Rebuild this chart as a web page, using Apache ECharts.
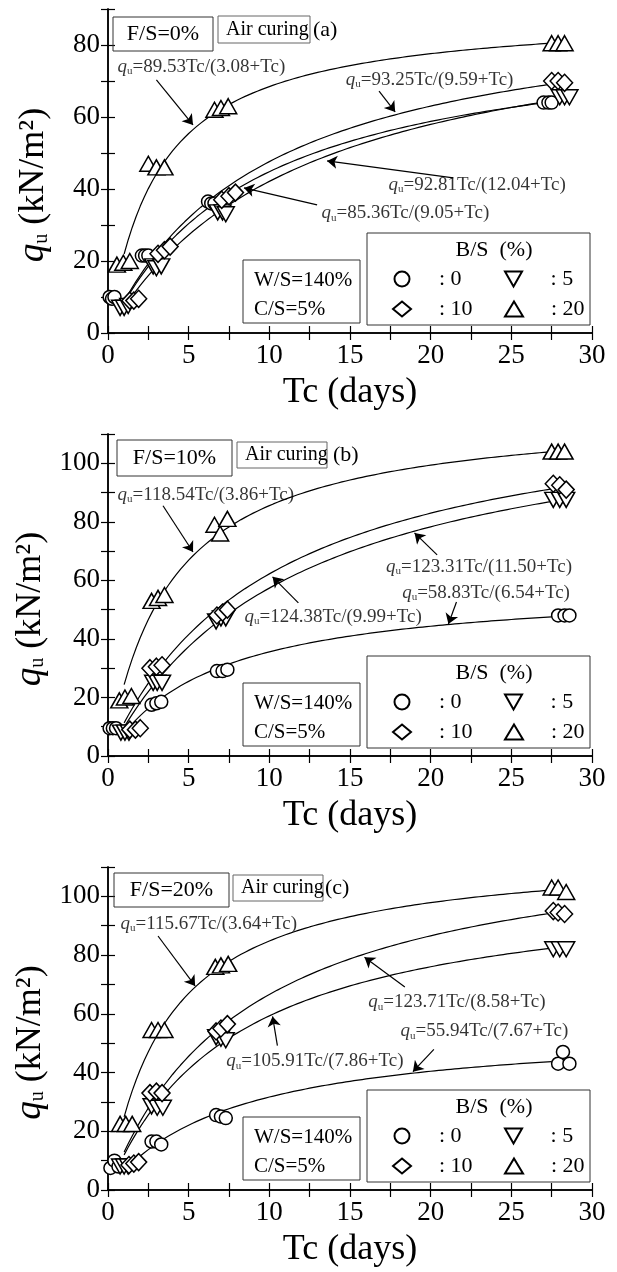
<!DOCTYPE html>
<html>
<head>
<meta charset="utf-8">
<script src="https://cdn.jsdelivr.net/npm/echarts@6/dist/echarts.min.js"></script>
<style>
html,body{margin:0;padding:0;background:#fff;}
#chart{width:617px;height:1272px;}
</style>
</head>
<body>
<div id="chart"></div>
<script>
// ---- measured unconfined strength q_u (kN/m2) vs curing time Tc (days) ----
// F/S = 0 %
const fs0_bs0_tc  = [0.1, 0.25, 0.4, 2.1, 2.3, 2.5, 6.2, 6.4, 6.6, 27.0, 27.3, 27.5];
const fs0_bs0_qu  = [10, 9.5, 10, 21.5, 21.5, 21.5, 36.5, 36, 36, 64, 64, 64];
const fs0_bs5_tc  = [0.75, 1.0, 1.25, 2.8, 3.0, 3.3, 6.8, 7.1, 7.3, 28.0, 28.3, 28.6];
const fs0_bs5_qu  = [7, 7, 7.5, 18.5, 18, 18.5, 33.5, 33.5, 33, 65.5, 65.5, 65.5];
const fs0_bs10_tc = [1.35, 1.6, 1.9, 3.1, 3.5, 3.85, 7.05, 7.5, 7.9, 27.5, 27.9, 28.3];
const fs0_bs10_qu = [9, 9, 9.5, 22, 23, 24, 37, 38, 39, 70, 70, 69.5];
const fs0_bs20_tc = [0.55, 0.95, 1.35, 2.5, 3.0, 3.5, 6.6, 7.0, 7.45, 27.5, 27.9, 28.3];
const fs0_bs20_qu = [19, 19.5, 20, 47, 46, 46, 62, 62.5, 63, 80.5, 80.5, 80.5];
// F/S = 10 %
const fs10_bs0_tc  = [0.1, 0.3, 0.5, 2.7, 3.0, 3.3, 6.75, 7.1, 7.4, 27.9, 28.3, 28.6];
const fs10_bs0_qu  = [9.5, 9.5, 9.5, 17.5, 18, 18.5, 29, 29, 29.5, 48, 48, 48];
const fs10_bs5_tc  = [0.8, 1.05, 1.3, 2.8, 3.05, 3.35, 6.7, 7.0, 7.3, 27.6, 28.0, 28.4];
const fs10_bs5_qu  = [8, 8, 8, 25, 25, 25, 46, 47, 47, 87.5, 87.5, 87.5];
const fs10_bs10_tc = [1.35, 1.7, 2.0, 2.6, 3.0, 3.35, 6.75, 7.1, 7.4, 27.6, 28.0, 28.4];
const fs10_bs10_qu = [9, 9, 9.5, 30, 30.5, 31, 48, 49, 50, 93, 92.5, 91];
const fs10_bs20_tc = [0.7, 1.05, 1.45, 2.7, 3.1, 3.5, 6.6, 6.95, 7.4, 27.5, 27.9, 28.3];
const fs10_bs20_qu = [19, 20, 20.5, 53, 54, 55, 79, 76, 81, 104, 104, 104];
// F/S = 20 %
const fs20_bs0_tc  = [0.15, 0.4, 0.65, 2.7, 3.0, 3.3, 6.7, 7.0, 7.3, 27.9, 28.2, 28.6];
const fs20_bs0_qu  = [7.5, 10, 8, 16.5, 16.5, 15.5, 25.5, 25, 24.5, 43, 47, 43];
const fs20_bs5_tc  = [0.75, 1.0, 1.25, 2.7, 3.05, 3.4, 6.7, 7.0, 7.3, 27.6, 28.0, 28.4];
const fs20_bs5_qu  = [8, 8, 8, 28.5, 28, 28, 52, 51.5, 51, 82, 82, 82];
const fs20_bs10_tc = [1.3, 1.6, 1.9, 2.6, 3.0, 3.35, 6.7, 7.0, 7.4, 27.6, 27.9, 28.3];
const fs20_bs10_qu = [8.5, 9, 9.5, 33, 33.5, 33, 54, 55, 56.5, 95, 94.5, 94];
const fs20_bs20_tc = [0.75, 1.1, 1.5, 2.7, 3.1, 3.5, 6.65, 7.0, 7.45, 27.5, 27.9, 28.4];
const fs20_bs20_qu = [22.5, 22.5, 22.5, 54.5, 54.5, 54.5, 76, 76.5, 77, 103, 103, 101.5];

// hyperbolic fits q_u = a*Tc/(b+Tc), order B/S = 0, 5, 10, 20 %
const fs0_fitA  = [85.36, 92.81, 93.25, 89.53];
const fs0_fitB  = [9.05, 12.04, 9.59, 3.08];
const fs10_fitA = [58.83, 123.31, 124.38, 118.54];
const fs10_fitB = [6.54, 11.50, 9.99, 3.86];
const fs20_fitA = [55.94, 105.91, 123.71, 115.67];
const fs20_fitB = [7.67, 7.86, 8.58, 3.64];

// labels
const bsNames = [': 0', ': 5', ': 10', ': 20'];
const fsLabels = ['F/S=0%', 'F/S=10%', 'F/S=20%'];
const panelTags = ['(a)', '(b)', '(c)'];
const xTicks = [0, 5, 10, 15, 20, 25, 30];

const PANEL_DATA = [
  {tc: [fs0_bs0_tc, fs0_bs5_tc, fs0_bs10_tc, fs0_bs20_tc], qu: [fs0_bs0_qu, fs0_bs5_qu, fs0_bs10_qu, fs0_bs20_qu], a: fs0_fitA, b: fs0_fitB},
  {tc: [fs10_bs0_tc, fs10_bs5_tc, fs10_bs10_tc, fs10_bs20_tc], qu: [fs10_bs0_qu, fs10_bs5_qu, fs10_bs10_qu, fs10_bs20_qu], a: fs10_fitA, b: fs10_fitB},
  {tc: [fs20_bs0_tc, fs20_bs5_tc, fs20_bs10_tc, fs20_bs20_tc], qu: [fs20_bs0_qu, fs20_bs5_qu, fs20_bs10_qu, fs20_bs20_qu], a: fs20_fitA, b: fs20_fitB}
];

// ---- layout ----
const FONT = '"Liberation Serif", "Times New Roman", serif';
const GRID_LEFT = 108, GRID_RIGHT = 592;
const PANELS = [
  {top: 9,   height: 324, ymax: 90,  fsBox: [113, 8, 100, 34], airBox: [218, 7, 92, 27], tagX: 313},
  {top: 434, height: 322, ymax: 110, fsBox: [117, 6, 115, 36], airBox: [237, 8, 90, 26], tagX: 333},
  {top: 867, height: 323, ymax: 110, fsBox: [114, 6, 115, 34], airBox: [233, 8, 90, 26], tagX: 325}
];

// equation label anchors and arrows, in data units (fit index, label position, arrow tail -> head)
const EQ_NOTES = [
  [
    {fit: 3, at: [0.56, 73.9], arrow: [[3.0, 70.3], [5.27, 57.8]]},
    {fit: 2, at: [14.7, 70.3], arrow: [[16.8, 67.2], [17.8, 61.4]]},
    {fit: 1, at: [17.36, 41.1], arrow: [[21.4, 43.1], [13.58, 47.8]]},
    {fit: 0, at: [13.2, 33.3], arrow: [[12.96, 35.6], [8.43, 40.3]]}
  ],
  [
    {fit: 3, at: [0.56, 89.2], arrow: [[3.41, 85.5], [5.27, 69.7]]},
    {fit: 1, at: [17.2, 64.6], arrow: [[20.4, 68.7], [19.0, 76.2]]},
    {fit: 0, at: [18.2, 55.7], arrow: [[21.6, 52.6], [21.1, 45.1]]},
    {fit: 2, at: [8.43, 47.5], arrow: [[11.8, 52.3], [10.2, 61.2]]}
  ],
  [
    {fit: 3, at: [0.74, 90.6], arrow: [[3.1, 86.5], [5.4, 69.5]]},
    {fit: 2, at: [16.1, 63.9], arrow: [[18.4, 69.1], [15.9, 79.3]]},
    {fit: 0, at: [18.1, 54.0], arrow: [[20.2, 47.9], [18.9, 40.3]]},
    {fit: 1, at: [7.3, 43.8], arrow: [[10.5, 49.2], [10.2, 59.1]]}
  ]
];

// downward-pointing triangle for B/S = 5 %
const DOWN_TRIANGLE = 'path://M0,0L20,0L10,17.6Z';
const MARKS = [
  {symbol: 'circle',      size: 13,       icon: 'circle'},
  {symbol: DOWN_TRIANGLE, size: [17, 15], icon: DOWN_TRIANGLE},
  {symbol: 'diamond',     size: [16, 17], icon: 'diamond'},
  {symbol: 'triangle',    size: [17, 15], icon: 'triangle'}
];

const AXIS_LINE = {lineStyle: {color: '#000', width: 1.5}};
const AXIS_TICK = {inside: true, length: 7, lineStyle: {color: '#000', width: 1.2}};

const grids = [], xAxes = [], yAxes = [], series = [], legends = [], graphics = [];

PANELS.forEach((p, i) => {
  const bottom = p.top + p.height;
  grids.push({left: GRID_LEFT, top: p.top, width: GRID_RIGHT - GRID_LEFT, height: p.height, outerBoundsMode: 'none', containLabel: false});

  xAxes.push({
    type: 'value', gridIndex: i, min: 0, max: 30, interval: 2.5, position: 'bottom',
    axisLine: AXIS_LINE, axisTick: AXIS_TICK, splitLine: {show: false},
    axisLabel: {color: '#000', fontSize: 27, fontFamily: FONT, margin: 9,
      formatter: v => (xTicks.indexOf(v) >= 0 ? String(v) : '')},
    name: 'Tc (days)', nameLocation: 'middle', nameGap: 42,
    nameTextStyle: {color: '#000', fontSize: 36, fontFamily: FONT}
  });
  xAxes.push({
    type: 'value', gridIndex: i, min: 0, max: 30, interval: 2.5, position: 'top',
    axisLine: AXIS_LINE, axisTick: AXIS_TICK, splitLine: {show: false}, axisLabel: {show: false}
  });
  yAxes.push({
    type: 'value', gridIndex: i, min: 0, max: p.ymax, interval: 10, position: 'left',
    axisLine: AXIS_LINE, axisTick: AXIS_TICK, splitLine: {show: false},
    axisLabel: {color: '#000', fontSize: 27, fontFamily: FONT, margin: 8,
      formatter: v => (v % 20 === 0 ? String(v) : '')},
    name: '{q|q}{u|u}{t| (kN/m²)}', nameLocation: 'middle', nameGap: 56, nameRotate: 90,
    nameTextStyle: {
      color: '#000', fontFamily: FONT, fontSize: 36, padding: [0, 28, 0, 0],
      rich: {
        q: {fontSize: 37, fontStyle: 'italic', fontFamily: FONT, color: '#000'},
        u: {fontSize: 20, fontFamily: FONT, color: '#000', padding: [16, 0, 0, 0]},
        t: {fontSize: 36, fontFamily: FONT, color: '#000'}
      }
    }
  });
  yAxes.push({
    type: 'value', gridIndex: i, min: 0, max: p.ymax, interval: 10, position: 'right',
    axisLine: AXIS_LINE, axisTick: AXIS_TICK, splitLine: {show: false}, axisLabel: {show: false}
  });

  const d = PANEL_DATA[i];
  // fitted curves
  d.a.forEach((a, k) => {
    const b = d.b[k];
    const pts = [];
    for (let t = 1; t <= 27.5001; t += 0.25) pts.push([t, a * t / (b + t)]);
    series.push({
      type: 'line', name: 'fit' + i + '-' + k, xAxisIndex: 2 * i, yAxisIndex: 2 * i,
      data: pts, showSymbol: false, symbol: 'none', smooth: false, silent: true, z: 2,
      lineStyle: {color: '#000', width: 1.2}
    });
  });
  // measured points
  d.tc.forEach((tcs, k) => {
    series.push({
      type: 'scatter', name: bsNames[k], xAxisIndex: 2 * i, yAxisIndex: 2 * i,
      data: tcs.map((t, j) => [t, d.qu[k][j]]),
      symbol: MARKS[k].symbol, symbolSize: MARKS[k].size, symbolKeepAspect: false,
      itemStyle: {color: '#fff', borderColor: '#000', borderWidth: 1.5, opacity: 1},
      z: 3
    });
  });
  // arrows
  series.push({
    type: 'lines', coordinateSystem: 'cartesian2d', xAxisIndex: 2 * i, yAxisIndex: 2 * i,
    symbol: ['none', 'arrow'], symbolSize: 10, silent: true, z: 4,
    lineStyle: {color: '#000', width: 1.2, opacity: 1},
    data: EQ_NOTES[i].map(n => ({coords: n.arrow}))
  });
  // equation text
  series.push({
    type: 'scatter', name: 'eq' + i, xAxisIndex: 2 * i, yAxisIndex: 2 * i,
    symbolSize: 1, itemStyle: {color: 'rgba(0,0,0,0)'}, silent: true, z: 5,
    data: EQ_NOTES[i].map(n => ({
      value: n.at,
      eq: '{q|q}{u|u}{t|=' + d.a[n.fit].toFixed(2) + 'Tc/(' + d.b[n.fit].toFixed(2) + '+Tc)}'
    })),
    label: {
      show: true, position: 'right', distance: 0,
      formatter: pr => pr.data.eq,
      rich: {
        q: {fontSize: 19, fontStyle: 'italic', fontFamily: FONT, color: '#000'},
        u: {fontSize: 11, fontFamily: FONT, color: '#000', padding: [9, 0, 0, 0]},
        t: {fontSize: 19, fontFamily: FONT, color: '#000'}
      }
    }
  });

  // B/S legend (2 x 2)
  const bsTop = bottom - 8 - 92;
  legends.push({
    data: bsNames.map((n, k) => ({name: n, icon: MARKS[k].icon})),
    left: 392, top: bsTop + 35, width: 240, orient: 'horizontal',
    padding: 0, itemGap: 8, itemWidth: 18, itemHeight: 15, selectedMode: false,
    textStyle: {color: '#000', fontSize: 22, fontFamily: FONT, width: 57, padding: [0, 0, 0, 23], lineHeight: 15}
  });

  const font = s => s + 'px ' + FONT;
  // F/S box
  graphics.push({type: 'rect', z: 10, shape: {x: p.fsBox[0], y: p.top + p.fsBox[1], width: p.fsBox[2], height: p.fsBox[3]},
    style: {fill: 'rgba(0,0,0,0)', stroke: '#333', lineWidth: 1}});
  graphics.push({type: 'text', z: 10, style: {text: fsLabels[i], x: p.fsBox[0] + p.fsBox[2] / 2, y: p.top + p.fsBox[1] + p.fsBox[3] / 2,
    textAlign: 'center', textVerticalAlign: 'middle', font: font(22), fill: '#000'}});
  // Air curing box
  graphics.push({type: 'rect', z: 10, shape: {x: p.airBox[0], y: p.top + p.airBox[1], width: p.airBox[2], height: p.airBox[3]},
    style: {fill: 'rgba(0,0,0,0)', stroke: '#666', lineWidth: 1}});
  graphics.push({type: 'text', z: 10, style: {text: 'Air curing', x: p.airBox[0] + 8, y: p.top + p.airBox[1] + p.airBox[3] / 2,
    textAlign: 'left', textVerticalAlign: 'middle', font: font(20), fill: '#000'}});
  graphics.push({type: 'text', z: 10, style: {text: panelTags[i], x: p.tagX, y: p.top + 21,
    textAlign: 'left', textVerticalAlign: 'middle', font: font(22), fill: '#000'}});
  // W/S, C/S box
  const wsTop = bottom - 10 - 63;
  graphics.push({type: 'rect', z: 10, shape: {x: 243, y: wsTop, width: 117, height: 63},
    style: {fill: 'rgba(0,0,0,0)', stroke: '#333', lineWidth: 1}});
  graphics.push({type: 'text', z: 10, style: {text: 'W/S=140%', x: 254, y: wsTop + 20,
    textAlign: 'left', textVerticalAlign: 'middle', font: font(21), fill: '#000'}});
  graphics.push({type: 'text', z: 10, style: {text: 'C/S=5%', x: 254, y: wsTop + 49,
    textAlign: 'left', textVerticalAlign: 'middle', font: font(21), fill: '#000'}});
  // B/S box and title
  graphics.push({type: 'rect', z: 10, shape: {x: 367, y: bsTop, width: 223, height: 92},
    style: {fill: 'rgba(0,0,0,0)', stroke: '#333', lineWidth: 1}});
  graphics.push({type: 'text', z: 10, style: {text: 'B/S  (%)', x: 494, y: bsTop + 17,
    textAlign: 'center', textVerticalAlign: 'middle', font: font(22), fill: '#000'}});
});

const chart = echarts.init(document.getElementById('chart'), null, {renderer: 'canvas'});
chart.setOption({
  backgroundColor: '#fff',
  animation: false,
  textStyle: {fontFamily: FONT, color: '#000'},
  grid: grids,
  xAxis: xAxes,
  yAxis: yAxes,
  legend: legends,
  series: series,
  graphic: graphics
});
</script>
</body>
</html>
